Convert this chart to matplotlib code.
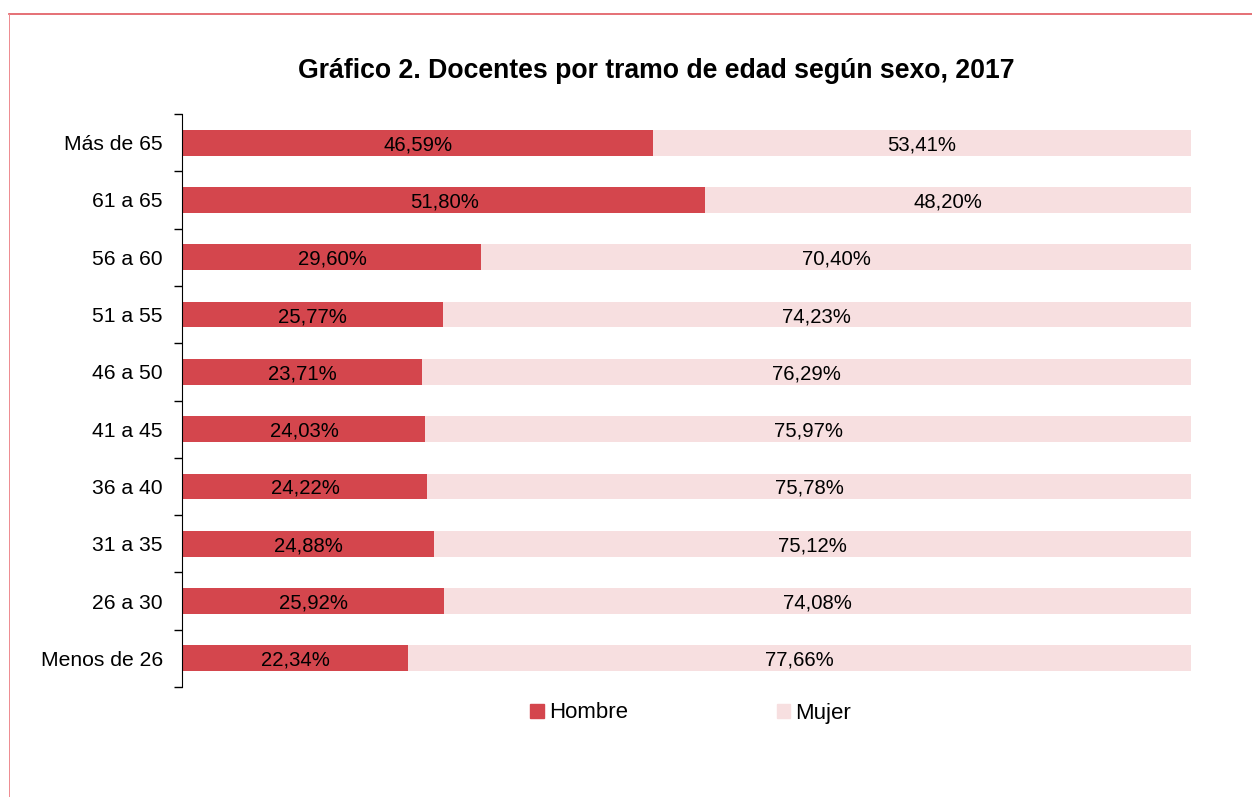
import numpy as np
import matplotlib.pyplot as plt
from matplotlib.lines import Line2D
from matplotlib.patches import Patch

plt.rcParams['font.family'] = ['Liberation Sans', 'DejaVu Sans']

# data (top to bottom as in the picture)
tramos = ['Más de 65', '61 a 65', '56 a 60', '51 a 55', '46 a 50',
          '41 a 45', '36 a 40', '31 a 35', '26 a 30', 'Menos de 26']
hombre = [46.59, 51.80, 29.60, 25.77, 23.71, 24.03, 24.22, 24.88, 25.92, 22.34]
mujer = [53.41, 48.20, 70.40, 74.23, 76.29, 75.97, 75.78, 75.12, 74.08, 77.66]

col_h = '#D4464D'
col_m = '#F7DFE0'

def pct(v):
    return f'{v:.2f}%'.replace('.', ',')

def main():
    fig = plt.figure(figsize=(12.52, 7.97), dpi=100)
    ax = fig.add_axes([183 / 1252, 1 - 687 / 797, 1008 / 1252, 573 / 797])

    y = np.arange(len(tramos))[::-1]
    ax.barh(y, hombre, height=0.45, color=col_h, label='Hombre')
    ax.barh(y, mujer, left=hombre, height=0.45, color=col_m, label='Mujer')

    for yi, h, m in zip(y, hombre, mujer):
        ax.text(h / 2, yi, pct(h), ha='center', va='center_baseline', fontsize=14.6)
        ax.text(h + m / 2, yi, pct(m), ha='center', va='center_baseline', fontsize=14.6)

    ax.set_xlim(0, 100)
    ax.set_ylim(-0.5, len(tramos) - 0.5)
    ax.set_yticks(y)
    ax.set_yticklabels(tramos)
    ax.set_yticks(np.arange(len(tramos) + 1) - 0.5, minor=True)
    ax.tick_params(axis='y', which='major', length=0, pad=13.5, labelsize=15.2)
    ax.tick_params(axis='y', which='minor', length=6, width=1, direction='out')
    ax.set_xticks([])
    for s in ['top', 'right', 'bottom']:
        ax.spines[s].set_visible(False)
    ax.spines['left'].set_position(('outward', 1))

    fig.text(656.5 / 1252, 1 - 71 / 797, 'Gráfico 2. Docentes por tramo de edad según sexo, 2017',
             ha='center', va='center', fontsize=19.2, fontweight='bold')

    handles = [Patch(color=col_h), Patch(color=col_m)]
    fig.legend(handles, ['Hombre', 'Mujer'], loc='center', ncol=2,
               bbox_to_anchor=(690.5 / 1252, 1 - 713 / 797), frameon=False,
               fontsize=16, handlelength=0.59, handleheight=0.59,
               handletextpad=0.23, columnspacing=6.7, borderpad=0)

    # outer frame (only top and left visible)
    fig.add_artist(Line2D([9 / 1252, 1], [1 - 14 / 797, 1 - 14 / 797],
                          transform=fig.transFigure, color='#E0575E', lw=1.2))
    fig.add_artist(Line2D([9 / 1252, 9 / 1252], [0, 1 - 14 / 797],
                          transform=fig.transFigure, color='#EE8A8F', lw=0.7))

    fig.savefig('out.png', dpi=100)

if __name__ == '__main__':
    main()
